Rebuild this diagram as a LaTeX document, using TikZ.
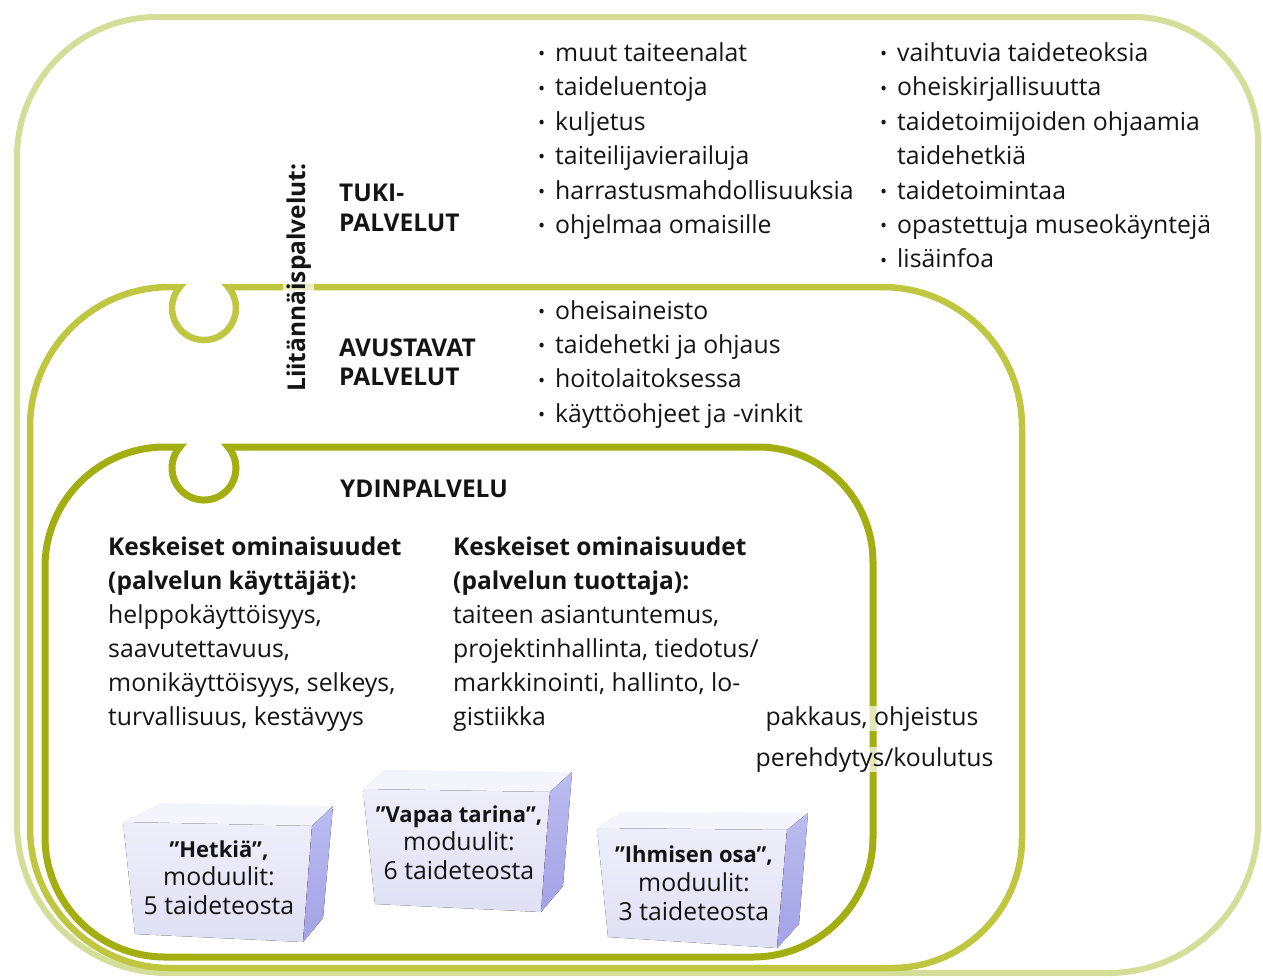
\documentclass[tikz,border=0pt]{standalone}
\usepackage{fontspec}
\setmainfont{Open Sans}
\definecolor{cOuter}{HTML}{D5DE98}
\definecolor{cMid}{HTML}{BEC73F}
\definecolor{cInner}{HTML}{A3AE10}
\definecolor{cText}{HTML}{141414}
\definecolor{cTop}{HTML}{F4F4FC}
\definecolor{cFrontA}{HTML}{EEEEFA}
\definecolor{cFrontB}{HTML}{E0E0F5}
\definecolor{cSideA}{HTML}{BCBCF0}
\definecolor{cSideB}{HTML}{A2A2E6}
\tikzset{
  frameO/.style={draw=cOuter, line width=6pt},
  frameM/.style={draw=cMid, line width=6.5pt},
  frameI/.style={draw=cInner, line width=7pt},
  txt/.style={inner sep=0pt, anchor=base west, text=cText, font=\fontsize{24.8}{30}\selectfont},
  head/.style={txt, font=\bfseries\fontsize{24.5}{30}\selectfont},
  item/.style={txt, execute at begin node={\makebox[18pt][l]{\hspace{1pt}\fontsize{19}{19}\selectfont\raisebox{0.8pt}{•}}}},
  boxtxt/.style={inner sep=0pt, anchor=base, text=cText, font=\fontsize{24.8}{30}\selectfont},
  boxhead/.style={boxtxt, font=\bfseries\fontsize{22}{30}\selectfont},
  pale/.style={fill=white, fill opacity=0.7, text opacity=1},
  topface/.style={fill=cTop},
  frontface/.style={top color=cFrontA, bottom color=cFrontB},
  sideface/.style={top color=cSideA, bottom color=cSideB},
}
\begin{document}
\begin{tikzpicture}[x=1pt,y=1pt]
\useasboundingbox (0,0) rectangle (1263,-977);
% outer frame
\draw[frameO] (17,-157) arc[start angle=180,end angle=90,radius=140] -- (1133,-17)
  arc[start angle=90,end angle=0,radius=125] -- (1258,-823)
  arc[start angle=0,end angle=-90,radius=150] -- (167,-973)
  arc[start angle=270,end angle=180,radius=150] -- cycle;
% middle frame
\draw[frameM] (30,-427) arc[start angle=180,end angle=90,radius=140] -- (179.9,-287)
  arc[start angle=138.9,end angle=401.1,radius=32] -- (882,-287)
  arc[start angle=90,end angle=0,radius=140] -- (1022,-838)
  arc[start angle=0,end angle=-90,radius=130] -- (170,-968)
  arc[start angle=270,end angle=180,radius=140] -- cycle;
% inner frame
\draw[frameI] (45,-567) arc[start angle=180,end angle=90,radius=120] -- (179.9,-447)
  arc[start angle=138.9,end angle=401.1,radius=32] -- (758,-447)
  arc[start angle=90,end angle=0,radius=115] -- (873,-837)
  arc[start angle=0,end angle=-90,radius=120] -- (165,-957)
  arc[start angle=270,end angle=180,radius=120] -- cycle;

% cubes
\fill[topface] (123,-822) -- (160,-803) -- (333,-806) -- (312,-826) -- cycle;
\fill[frontface] (123,-822) -- (312,-826) -- (303,-942) -- (135,-934) -- cycle;
\fill[sideface] (312,-826) -- (333,-806) -- (323,-918) -- (303,-942) -- cycle;

\fill[topface] (363,-789) -- (384,-770) -- (572,-772) -- (550,-792) -- cycle;
\fill[frontface] (363,-789) -- (550,-792) -- (541,-912) -- (375,-904) -- cycle;
\fill[sideface] (550,-792) -- (572,-772) -- (563,-886) -- (541,-912) -- cycle;

\fill[topface] (597,-828) -- (620,-812) -- (808,-813) -- (787,-830) -- cycle;
\fill[frontface] (597,-828) -- (787,-830) -- (777,-948) -- (608,-937) -- cycle;
\fill[sideface] (787,-830) -- (808,-813) -- (799,-924) -- (777,-948) -- cycle;

\node[boxhead] (b1a) at (219,-857) {”Hetkiä”,};
\node[boxtxt] (b1b) at (219,-885.5) {moduulit:};
\node[boxtxt] (b1c) at (219,-914) {5 taideteosta};
\node[boxhead] (b2a) at (459,-822) {”Vapaa tarina”,};
\node[boxtxt] (b2b) at (459,-850.5) {moduulit:};
\node[boxtxt] (b2c) at (459,-879) {6 taideteosta};
\node[boxhead] (b3a) at (694,-862) {”Ihmisen osa”,};
\node[boxtxt] (b3b) at (694,-891) {moduulit:};
\node[boxtxt] (b3c) at (694,-920) {3 taideteosta};

% vertical label
\node[head, pale, inner sep=3pt, rotate=90] (liit) at (305,-395) {Liitännäispalvelut:};

% headings
\node[head] (tuki1) at (339,-201.5) {TUKI-};
\node[head] (tuki2) at (339,-231.5) {PALVELUT};
\node[head] (avu1) at (339,-356.5) {AVUSTAVAT};
\node[head] (avu2) at (339,-385.5) {PALVELUT};
\node[head] (ydin) at (340,-497) {YDINPALVELU};

% lists
\foreach \t [count=\i from 0] in {{muut taiteenalat},{taideluentoja},{kuljetus},{taiteilijavierailuja},{harrastusmahdollisuuksia},{ohjelmaa omaisille}}
  \node[item] (ta\i) at (537,{-61.5-34.4*\i}) {\t};
\foreach \t [count=\i from 0] in {{vaihtuvia taideteoksia},{oheiskirjallisuutta},{taidetoimijoiden ohjaamia}}
  \node[item] (tb\i) at (879,{-61.5-34.4*\i}) {\t};
\node[txt] (tb3) at (897,-164.7) {taidehetkiä};
\foreach \t [count=\i from 4] in {{taidetoimintaa},{opastettuja museokäyntejä},{lisäinfoa}}
  \node[item] (tb\i) at (879,{-61.5-34.4*\i}) {\t};
\foreach \t [count=\i from 0] in {{oheisaineisto},{taidehetki ja ohjaus},{hoitolaitoksessa},{käyttöohjeet ja -vinkit}}
  \node[item] (av\i) at (537,{-319.5-34.2*\i}) {\t};

% ydinpalvelu columns
\node[head] (k1a) at (108,-555) {Keskeiset ominaisuudet};
\node[head] (k1b) at (108,-589) {(palvelun käyttäjät):};
\foreach \t [count=\i from 2] in {{helppokäyttöisyys,},{saavutettavuus,},{monikäyttöisyys, selkeys,},{turvallisuus, kestävyys}}
  \node[txt] (k1\i) at (108,{-555-34*\i}) {\t};
\node[head] (k2a) at (453,-555) {Keskeiset ominaisuudet};
\node[head] (k2b) at (453,-589) {(palvelun tuottaja):};
\foreach \t [count=\i from 2] in {{taiteen asiantuntemus,},{projektinhallinta, tiedotus/},{markkinointi, hallinto, lo-},{gistiikka}}
  \node[txt] (k2\i) at (453,{-555-34*\i}) {\t};

% crossing labels
\node[txt, pale, inner sep=0.5pt] (pak) at (765,-725) {pakkaus, ohjeistus};
\node[txt, pale, inner sep=0.5pt] (pere) at (755,-766) {perehdytys/koulutus};
\end{tikzpicture}
\end{document}
